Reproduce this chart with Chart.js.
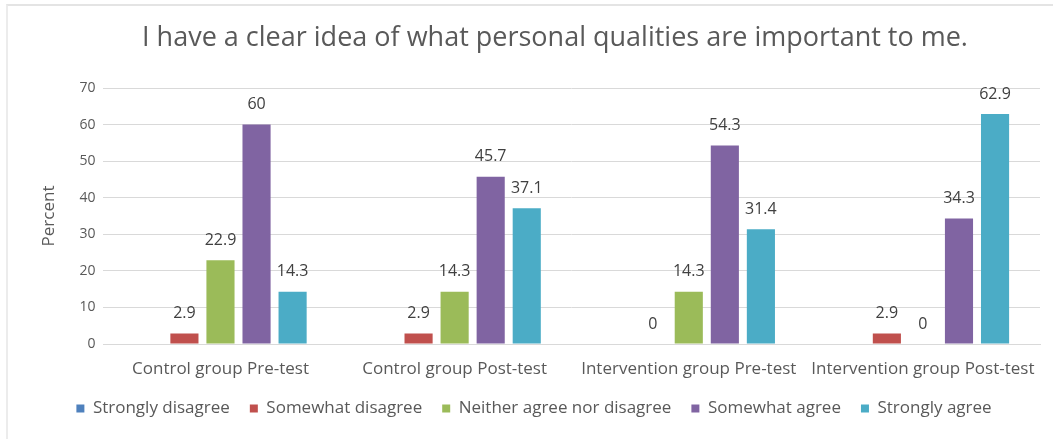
<!DOCTYPE html>
<html>
<head>
<meta charset="utf-8">
<script src="https://cdn.jsdelivr.net/npm/chart.js@4"></script>
<style>
  html, body { margin: 0; padding: 0; background: #fff; }
  #wrap { position: absolute; left: 0; top: 0; width: 1053px; height: 439px; }
  #frame { position: absolute; left: 6px; top: 4px; width: 1060px; height: 440px;
           border-top: 2px solid #e4e4e4; border-left: 2px solid #ececec; }
</style>
</head>
<body>
<div id="wrap">
  <div id="frame"></div>
  <canvas id="qualitiesChart" width="1053" height="439"></canvas>
</div>
<script>
const chartTitle = 'I have a clear idea of what personal qualities are important to me.';
const categories = ['Control group Pre-test', 'Control group Post-test', 'Intervention group Pre-test', 'Intervention group Post-test'];
const stronglyDisagree = [null, null, null, null];
const somewhatDisagree = [2.9, 2.9, 0, 2.9];
const neitherAgree = [22.9, 14.3, 14.3, 0];
const somewhatAgree = [60, 45.7, 54.3, 34.3];
const stronglyAgree = [14.3, 37.1, 31.4, 62.9];

// labels above each bar (no datalabels plugin available offline)
const barLabels = {
  id: 'barLabels',
  afterDatasetsDraw(chart) {
    const c = chart.ctx;
    c.save();
    c.font = '16px "Open Sans"';
    c.fillStyle = '#404040';
    c.textAlign = 'center';
    c.textBaseline = 'middle';
    chart.data.datasets.forEach((ds, i) => {
      chart.getDatasetMeta(i).data.forEach((bar, j) => {
        const v = ds.data[j];
        if (v === null) return;
        c.fillText(String(v), bar.x, bar.y - 20);
      });
    });
    c.restore();
  }
};

// title sits a bit right of the canvas centre in the original
const offsetTitle = {
  id: 'offsetTitle',
  afterDraw(chart) {
    const c = chart.ctx;
    c.save();
    c.font = '27px "Open Sans"';
    c.fillStyle = '#595959';
    c.textAlign = 'center';
    c.textBaseline = 'middle';
    c.fillText(chartTitle, 555, 38);
    c.restore();
  }
};

const ctx = document.getElementById('qualitiesChart').getContext('2d');
const qualitiesChart = new Chart(ctx, {
  type: 'bar',
  data: {
    labels: categories,
    datasets: [
      { label: 'Strongly disagree', data: stronglyDisagree, backgroundColor: '#4f81bd' },
      { label: 'Somewhat disagree', data: somewhatDisagree, backgroundColor: '#c0504d' },
      { label: 'Neither agree nor disagree', data: neitherAgree, backgroundColor: '#9bbb59' },
      { label: 'Somewhat agree', data: somewhatAgree, backgroundColor: '#8064a2' },
      { label: 'Strongly agree', data: stronglyAgree, backgroundColor: '#4bacc6' }
    ]
  },
  options: {
    responsive: false,
    animation: false,
    layout: { padding: { left: 28, right: 13, top: 88, bottom: 12 } },
    datasets: {
      bar: { categoryPercentage: 0.77, barPercentage: 0.78 }
    },
    scales: {
      y: {
        min: 0,
        max: 70,
        ticks: { stepSize: 10, color: '#595959', font: { family: '"Open Sans"', size: 14 }, padding: 8 },
        grid: { color: '#d9d9d9', drawTicks: false },
        border: { display: false },
        title: { display: true, text: 'Percent', color: '#595959', font: { family: '"Open Sans"', size: 17 }, padding: { top: 11, bottom: 12 } }
      },
      x: {
        ticks: { color: '#595959', font: { family: '"Open Sans"', size: 17 }, padding: 15, maxRotation: 0 },
        grid: { display: false, drawTicks: false },
        border: { color: '#d9d9d9' },
        afterFit(scale) { scale.height = 36; }
      }
    },
    plugins: {
      legend: {
        position: 'bottom',
        labels: { boxWidth: 8, boxHeight: 8, padding: 20, color: '#595959', font: { family: '"Open Sans"', size: 17 } }
      },
      title: { display: false },
      tooltip: { enabled: false }
    }
  },
  plugins: [barLabels, offsetTitle]
});
</script>
</body>
</html>
